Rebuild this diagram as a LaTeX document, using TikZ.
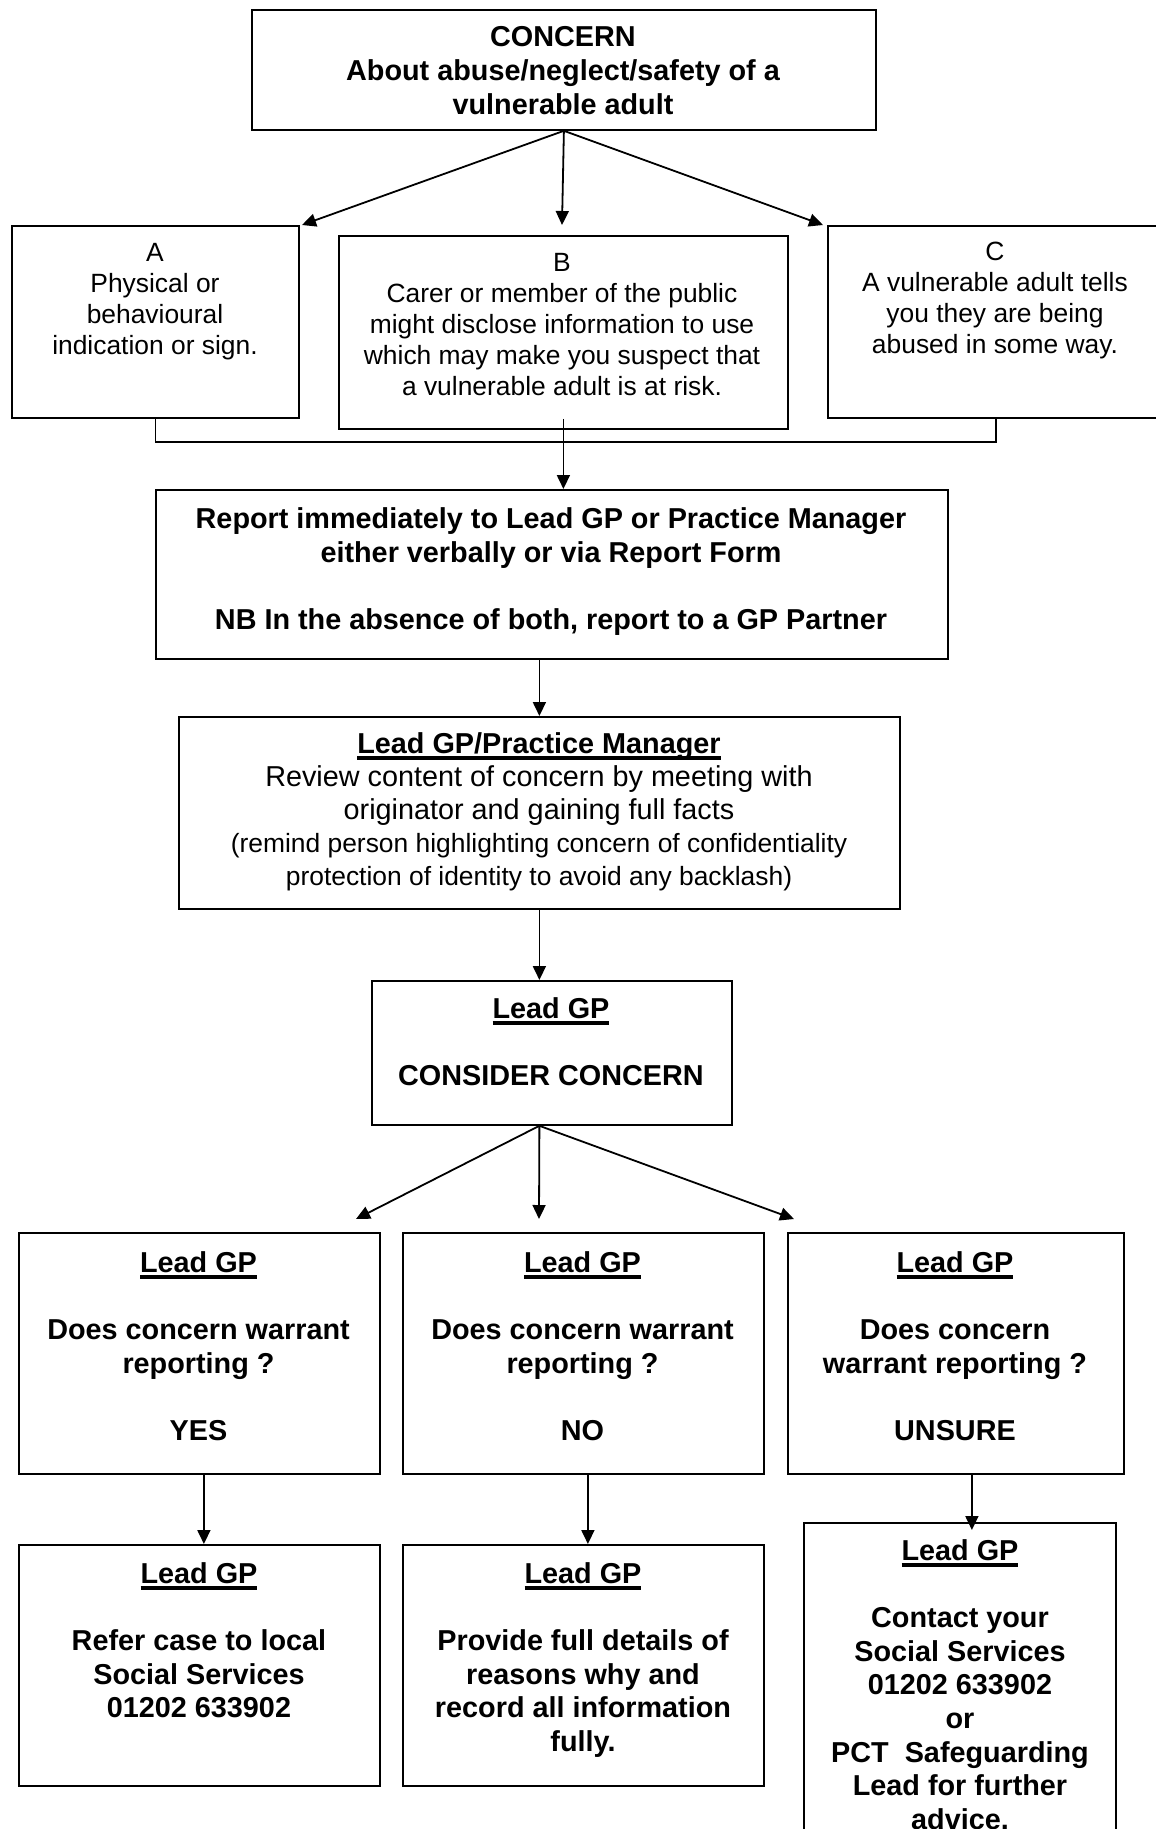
\documentclass[tikz,border=0pt]{standalone}
\usepackage{fontspec}
\setmainfont{Liberation Sans}
\usetikzlibrary{arrows.meta}
\newcommand\ulb[1]{\setbox0=\hbox{#1}\rlap{\vrule height -2.5pt depth 6pt width \wd0}\box0}
\tikzset{
  box/.style={draw, line width=1.8pt, inner sep=0pt, anchor=north west},
  arr/.style={line width=1.8pt, -{Triangle[length=14pt,width=13pt]}},
  ln/.style={line width=1.8pt},
  bt/.style={font=\bfseries\fontsize{28.8}{33.6}\selectfont, align=center, inner sep=0pt, anchor=north},
  rt/.style={font=\fontsize{26.4}{31}\selectfont, align=center, inner sep=0pt, anchor=north},
  mt/.style={font=\fontsize{28.8}{33}\selectfont, align=center, inner sep=0pt, anchor=north},
}
\begin{document}
\begin{tikzpicture}[x=1pt,y=-1pt]
\useasboundingbox (0,0) rectangle (1156,1829);
\fill[white] (0,0) rectangle (1156,1829);
\clip (0,0) rectangle (1156,1829);

% boxes
\node[box, minimum width=624pt, minimum height=120pt] (concern) at (251,9) {};
\node[box, minimum width=287pt, minimum height=192pt] (boxA) at (11,225) {};
\node[box, minimum width=449pt, minimum height=193pt] (boxB) at (338,235) {};
\node[box, minimum width=336pt, minimum height=192pt] (boxC) at (827,225) {};
\node[box, minimum width=792pt, minimum height=169pt] (report) at (155,489) {};
\node[box, minimum width=721pt, minimum height=192pt] (lgpm) at (178,716) {};
\node[box, minimum width=360pt, minimum height=144pt] (consider) at (371,980) {};
\node[box, minimum width=361pt, minimum height=241pt] (yes) at (18,1232) {};
\node[box, minimum width=361pt, minimum height=241pt] (no) at (402,1232) {};
\node[box, minimum width=336pt, minimum height=241pt] (unsure) at (787,1232) {};
\node[box, minimum width=361pt, minimum height=241pt] (refer) at (18,1544) {};
\node[box, minimum width=361pt, minimum height=241pt] (provide) at (402,1544) {};
\node[box, minimum width=312pt, minimum height=340pt] (contact) at (803,1522) {};

% texts
\node[bt] (tconcern) at (563,26.5) {CONCERN\\About abuse/neglect/safety of a\\vulnerable adult};
\node[rt] (tA) at (155,243) {A\\Physical or\\behavioural\\indication or sign.};
\node[rt] (tB) at (562,253) {B\\Carer or member of the public\\might disclose information to use\\which may make you suspect that\\a vulnerable adult is at risk.};
\node[rt] (tC) at (995,242) {C\\A vulnerable adult tells\\you they are being\\abused in some way.};
\node[bt] (treport) at (551,507.5) {Report immediately to Lead GP or Practice Manager\\either verbally or via Report Form\\[33.6pt]NB In the absence of both, report to a GP Partner};
\node[mt] (tlgpm) at (539,732.5) {\textbf{\ulb{Lead GP/Practice Manager}}\\Review content of concern by meeting with\\originator and gaining full facts\\{\fontsize{26.4}{30.5}\selectfont (remind person highlighting concern of confidentiality}\\{\fontsize{26.4}{30.5}\selectfont protection of identity to avoid any backlash)}};
\node[bt] (tconsider) at (551,997.5) {\ulb{Lead GP}\\[33.6pt]CONSIDER CONCERN};
\node[bt] (tyes) at (198.5,1251.5) {\ulb{Lead GP}\\[33.6pt]Does concern warrant\\reporting ?\\[33.6pt]YES};
\node[bt] (tno) at (582.5,1251.5) {\ulb{Lead GP}\\[33.6pt]Does concern warrant\\reporting ?\\[33.6pt]NO};
\node[bt] (tunsure) at (955,1251.5) {\ulb{Lead GP}\\[33.6pt]Does concern\\warrant reporting ?\\[33.6pt]UNSURE};
\node[bt] (trefer) at (199,1562.5) {\ulb{Lead GP}\\[33.6pt]Refer case to local\\Social Services\\01202 633902};
\node[bt] (tprovide) at (583,1562.5) {\ulb{Lead GP}\\[33.6pt]Provide full details of\\reasons why and\\record all information\\fully.};
\node[bt] (tcontact) at (960,1539.5) {\ulb{Lead GP}\\[33.6pt]Contact your\\Social Services\\01202 633902\\or\\PCT\ \ Safeguarding\\Lead for further\\advice.};

% coordinates
\coordinate (tipA) at (302,225);
\coordinate (tipB) at (562,225);
\coordinate (tipC) at (823,225);
\coordinate (brk) at (0,442);
\coordinate (c1) at (356,1219);
\coordinate (c2) at (539,1219);
\coordinate (c3) at (794,1219);

% connectors
\draw[arr] (concern.south) -- (tipA);
\draw[arr] (concern.south) -- (tipB);
\draw[arr] (concern.south) -- (tipC);
\draw[ln] (boxA.south) -- (boxA.south |- brk) -- (boxC.south |- brk) -- (boxC.south);
\draw[arr] ([yshift=11pt]boxB.south) -- (boxB.south |- report.north);
\draw[arr] (report.south -| lgpm.north) -- (lgpm.north);
\draw[arr] (lgpm.south) -- (lgpm.south |- consider.north);
\draw[arr] (lgpm.south |- consider.south) -- (c1);
\draw[arr] (lgpm.south |- consider.south) -- (c2);
\draw[arr] (lgpm.south |- consider.south) -- (c3);
\draw[arr] ([xshift=4.5pt]yes.south) -- ([xshift=4.5pt]refer.north);
\draw[arr] ([xshift=4.5pt]no.south) -- ([xshift=4.5pt]provide.north);
\draw[arr] ([xshift=16pt]unsure.south) -- ([xshift=12pt,yshift=-8pt]contact.north);
\end{tikzpicture}
\end{document}
